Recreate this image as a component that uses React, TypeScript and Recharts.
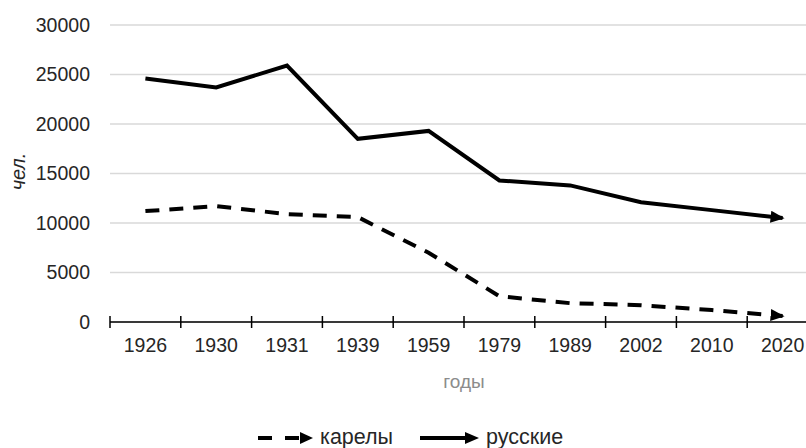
import { LineChart, Line, XAxis, YAxis, CartesianGrid, Legend } from 'recharts';

const years = ['1926', '1930', '1931', '1939', '1959', '1979', '1989', '2002', '2010', '2020'];
const karelians = [11200, 11700, 10900, 10600, 7000, 2600, 1900, 1700, 1200, 600];
const russians = [24600, 23700, 25900, 18500, 19300, 14300, 13800, 12100, 11300, 10500];
const yTicks = [0, 5000, 10000, 15000, 20000, 25000, 30000];

const data = years.map((year, i) => ({
  year,
  karelians: karelians[i],
  russians: russians[i],
}));

const FONT = "'Liberation Sans', Arial, sans-serif";
const TEXT = '#262626';
const BAND = 70.8;

const XTick = ({ x, y, payload }: any) => (
  <g>
    <line x1={x - BAND / 2} x2={x - BAND / 2} y1={y - 6} y2={y + 6} stroke="#000" strokeWidth={1.5} />
    <text x={x} y={y + 30} textAnchor="middle" fontSize={19.5} fill={TEXT} fontFamily={FONT}>
      {payload.value}
    </text>
  </g>
);

const YLabel = ({ viewBox }: any) => {
  const cy = viewBox.y + viewBox.height / 2 - 2;
  return (
    <text
      x={25}
      y={cy}
      transform={`rotate(-90, 25, ${cy})`}
      textAnchor="middle"
      fontSize={20}
      fontStyle="italic"
      fill={TEXT}
      fontFamily={FONT}
    >
      чел.
    </text>
  );
};

const LegendContent = () => (
  <div style={{ display: 'flex', alignItems: 'center', fontFamily: FONT, fontSize: 21.5, color: TEXT }}>
    <svg width={57} height={14}>
      <line x1={1} y1={7} x2={45} y2={7} stroke="#000" strokeWidth={4} strokeDasharray="14 13" />
      <path d="M43,1 L56,7 L43,13 Z" fill="#000" />
    </svg>
    <span style={{ marginLeft: 6 }}>карелы</span>
    <svg width={61} height={14} style={{ marginLeft: 26 }}>
      <line x1={1} y1={7} x2={48} y2={7} stroke="#000" strokeWidth={4} />
      <path d="M46,1 L60,7 L46,13 Z" fill="#000" />
    </svg>
    <span style={{ marginLeft: 6 }}>русские</span>
  </div>
);

export default function App() {
  document.body.style.margin = '0';
  return (
    <div style={{ width: 806, height: 448, overflow: 'hidden', background: '#fff', position: 'relative' }}>
      <LineChart width={830} height={448} data={data} margin={{ top: 25, right: 12, bottom: 66, left: 0 }}>
        <defs>
          <marker
            id="arrowHead"
            viewBox="0 0 14 12"
            refX={12}
            refY={6}
            markerWidth={14}
            markerHeight={12}
            markerUnits="userSpaceOnUse"
            orient="auto"
          >
            <path d="M0,0 L14,6 L0,12 Z" fill="#000" />
          </marker>
        </defs>
        <CartesianGrid vertical={false} stroke="#d9d9d9" strokeWidth={1.5} />
        <XAxis
          dataKey="year"
          padding={{ left: BAND / 2, right: BAND / 2 }}
          height={60}
          axisLine={{ stroke: '#000', strokeWidth: 1.5 }}
          tickLine={false}
          tickSize={0}
          tickMargin={0}
          interval={0}
          tick={<XTick />}
          label={{ value: 'годы', position: 'insideBottom', offset: -6, fill: '#8c8c8c', fontSize: 19, fontFamily: FONT }}
        />
        <YAxis
          domain={[0, 30000]}
          ticks={yTicks}
          width={110}
          axisLine={false}
          tickLine={false}
          tickSize={0}
          tickMargin={20}
          tick={{ fontSize: 19.5, fill: TEXT, fontFamily: FONT }}
          label={<YLabel />}
        />
        <Legend
          layout="horizontal"
          verticalAlign="middle"
          align="center"
          content={<LegendContent />}
          wrapperStyle={{ position: 'absolute', top: 425, left: 257, width: 'auto' }}
        />
        <Line
          dataKey="karelians"
          name="карелы"
          type="linear"
          stroke="#000"
          strokeWidth={4}
          strokeDasharray="14 10"
          dot={false}
          markerEnd="url(#arrowHead)"
          isAnimationActive={false}
        />
        <Line
          dataKey="russians"
          name="русские"
          type="linear"
          stroke="#000"
          strokeWidth={4}
          dot={false}
          markerEnd="url(#arrowHead)"
          isAnimationActive={false}
        />
      </LineChart>
    </div>
  );
}
